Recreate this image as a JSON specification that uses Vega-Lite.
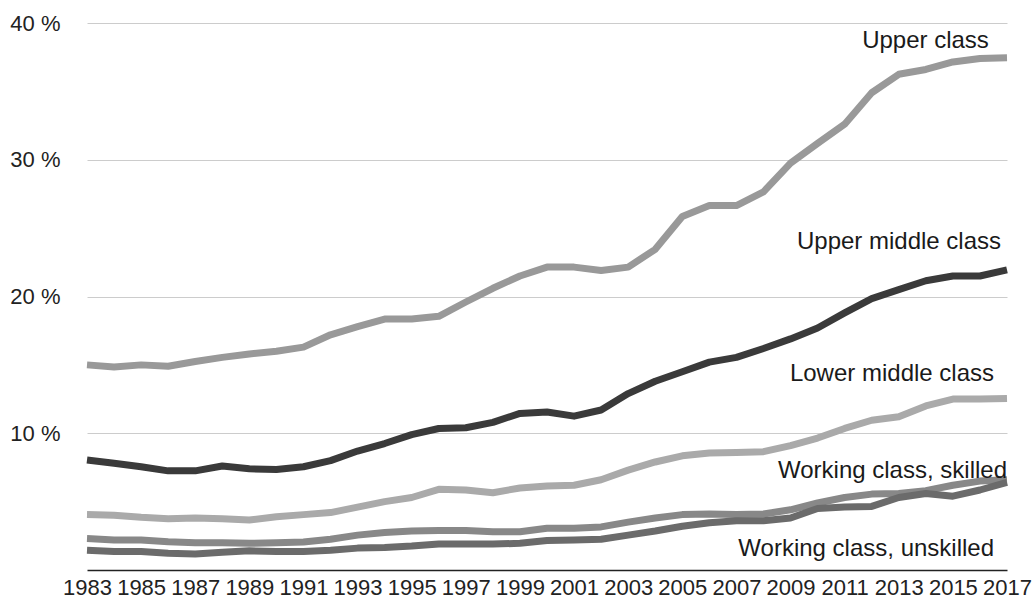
{
  "$schema": "https://vega.github.io/schema/vega-lite/v6.json",
  "width": 920,
  "height": 547,
  "autosize": "none",
  "padding": {"left": 87, "top": 23, "right": 28, "bottom": 29},
  "background": "white",
  "config": {"view": {"stroke": null}, "font": "Liberation Sans"},
  "datasets": {
    "series": [
      {"class": "Upper class", "year": 1983, "value": 15.0},
      {"class": "Upper class", "year": 1984, "value": 14.85},
      {"class": "Upper class", "year": 1985, "value": 15.0},
      {"class": "Upper class", "year": 1986, "value": 14.9},
      {"class": "Upper class", "year": 1987, "value": 15.25},
      {"class": "Upper class", "year": 1988, "value": 15.55},
      {"class": "Upper class", "year": 1989, "value": 15.8},
      {"class": "Upper class", "year": 1990, "value": 16.0},
      {"class": "Upper class", "year": 1991, "value": 16.3},
      {"class": "Upper class", "year": 1992, "value": 17.2},
      {"class": "Upper class", "year": 1993, "value": 17.8},
      {"class": "Upper class", "year": 1994, "value": 18.35},
      {"class": "Upper class", "year": 1995, "value": 18.35},
      {"class": "Upper class", "year": 1996, "value": 18.55},
      {"class": "Upper class", "year": 1997, "value": 19.6},
      {"class": "Upper class", "year": 1998, "value": 20.6},
      {"class": "Upper class", "year": 1999, "value": 21.5},
      {"class": "Upper class", "year": 2000, "value": 22.15},
      {"class": "Upper class", "year": 2001, "value": 22.15},
      {"class": "Upper class", "year": 2002, "value": 21.9},
      {"class": "Upper class", "year": 2003, "value": 22.15},
      {"class": "Upper class", "year": 2004, "value": 23.45},
      {"class": "Upper class", "year": 2005, "value": 25.85},
      {"class": "Upper class", "year": 2006, "value": 26.65},
      {"class": "Upper class", "year": 2007, "value": 26.65},
      {"class": "Upper class", "year": 2008, "value": 27.65},
      {"class": "Upper class", "year": 2009, "value": 29.75},
      {"class": "Upper class", "year": 2010, "value": 31.2},
      {"class": "Upper class", "year": 2011, "value": 32.6},
      {"class": "Upper class", "year": 2012, "value": 34.9},
      {"class": "Upper class", "year": 2013, "value": 36.25},
      {"class": "Upper class", "year": 2014, "value": 36.6},
      {"class": "Upper class", "year": 2015, "value": 37.15},
      {"class": "Upper class", "year": 2016, "value": 37.4},
      {"class": "Upper class", "year": 2017, "value": 37.45},

      {"class": "Upper middle class", "year": 1983, "value": 8.05},
      {"class": "Upper middle class", "year": 1984, "value": 7.8},
      {"class": "Upper middle class", "year": 1985, "value": 7.55},
      {"class": "Upper middle class", "year": 1986, "value": 7.25},
      {"class": "Upper middle class", "year": 1987, "value": 7.25},
      {"class": "Upper middle class", "year": 1988, "value": 7.6},
      {"class": "Upper middle class", "year": 1989, "value": 7.4},
      {"class": "Upper middle class", "year": 1990, "value": 7.35},
      {"class": "Upper middle class", "year": 1991, "value": 7.55},
      {"class": "Upper middle class", "year": 1992, "value": 8.0},
      {"class": "Upper middle class", "year": 1993, "value": 8.7},
      {"class": "Upper middle class", "year": 1994, "value": 9.25},
      {"class": "Upper middle class", "year": 1995, "value": 9.9},
      {"class": "Upper middle class", "year": 1996, "value": 10.35},
      {"class": "Upper middle class", "year": 1997, "value": 10.4},
      {"class": "Upper middle class", "year": 1998, "value": 10.8},
      {"class": "Upper middle class", "year": 1999, "value": 11.45},
      {"class": "Upper middle class", "year": 2000, "value": 11.55},
      {"class": "Upper middle class", "year": 2001, "value": 11.25},
      {"class": "Upper middle class", "year": 2002, "value": 11.7},
      {"class": "Upper middle class", "year": 2003, "value": 12.9},
      {"class": "Upper middle class", "year": 2004, "value": 13.8},
      {"class": "Upper middle class", "year": 2005, "value": 14.5},
      {"class": "Upper middle class", "year": 2006, "value": 15.2},
      {"class": "Upper middle class", "year": 2007, "value": 15.55},
      {"class": "Upper middle class", "year": 2008, "value": 16.2},
      {"class": "Upper middle class", "year": 2009, "value": 16.9},
      {"class": "Upper middle class", "year": 2010, "value": 17.7},
      {"class": "Upper middle class", "year": 2011, "value": 18.8},
      {"class": "Upper middle class", "year": 2012, "value": 19.85},
      {"class": "Upper middle class", "year": 2013, "value": 20.5},
      {"class": "Upper middle class", "year": 2014, "value": 21.15},
      {"class": "Upper middle class", "year": 2015, "value": 21.5},
      {"class": "Upper middle class", "year": 2016, "value": 21.5},
      {"class": "Upper middle class", "year": 2017, "value": 21.95},

      {"class": "Lower middle class", "year": 1983, "value": 4.05},
      {"class": "Lower middle class", "year": 1984, "value": 4.0},
      {"class": "Lower middle class", "year": 1985, "value": 3.85},
      {"class": "Lower middle class", "year": 1986, "value": 3.75},
      {"class": "Lower middle class", "year": 1987, "value": 3.8},
      {"class": "Lower middle class", "year": 1988, "value": 3.75},
      {"class": "Lower middle class", "year": 1989, "value": 3.65},
      {"class": "Lower middle class", "year": 1990, "value": 3.9},
      {"class": "Lower middle class", "year": 1991, "value": 4.05},
      {"class": "Lower middle class", "year": 1992, "value": 4.2},
      {"class": "Lower middle class", "year": 1993, "value": 4.6},
      {"class": "Lower middle class", "year": 1994, "value": 5.0},
      {"class": "Lower middle class", "year": 1995, "value": 5.3},
      {"class": "Lower middle class", "year": 1996, "value": 5.9},
      {"class": "Lower middle class", "year": 1997, "value": 5.85},
      {"class": "Lower middle class", "year": 1998, "value": 5.65},
      {"class": "Lower middle class", "year": 1999, "value": 6.0},
      {"class": "Lower middle class", "year": 2000, "value": 6.15},
      {"class": "Lower middle class", "year": 2001, "value": 6.2},
      {"class": "Lower middle class", "year": 2002, "value": 6.6},
      {"class": "Lower middle class", "year": 2003, "value": 7.3},
      {"class": "Lower middle class", "year": 2004, "value": 7.9},
      {"class": "Lower middle class", "year": 2005, "value": 8.35},
      {"class": "Lower middle class", "year": 2006, "value": 8.55},
      {"class": "Lower middle class", "year": 2007, "value": 8.6},
      {"class": "Lower middle class", "year": 2008, "value": 8.65},
      {"class": "Lower middle class", "year": 2009, "value": 9.1},
      {"class": "Lower middle class", "year": 2010, "value": 9.65},
      {"class": "Lower middle class", "year": 2011, "value": 10.35},
      {"class": "Lower middle class", "year": 2012, "value": 10.95},
      {"class": "Lower middle class", "year": 2013, "value": 11.2},
      {"class": "Lower middle class", "year": 2014, "value": 12.0},
      {"class": "Lower middle class", "year": 2015, "value": 12.5},
      {"class": "Lower middle class", "year": 2016, "value": 12.5},
      {"class": "Lower middle class", "year": 2017, "value": 12.55},

      {"class": "Working class, skilled", "year": 1983, "value": 2.3},
      {"class": "Working class, skilled", "year": 1984, "value": 2.2},
      {"class": "Working class, skilled", "year": 1985, "value": 2.2},
      {"class": "Working class, skilled", "year": 1986, "value": 2.07},
      {"class": "Working class, skilled", "year": 1987, "value": 2.0},
      {"class": "Working class, skilled", "year": 1988, "value": 2.0},
      {"class": "Working class, skilled", "year": 1989, "value": 1.95},
      {"class": "Working class, skilled", "year": 1990, "value": 2.0},
      {"class": "Working class, skilled", "year": 1991, "value": 2.05},
      {"class": "Working class, skilled", "year": 1992, "value": 2.25},
      {"class": "Working class, skilled", "year": 1993, "value": 2.55},
      {"class": "Working class, skilled", "year": 1994, "value": 2.75},
      {"class": "Working class, skilled", "year": 1995, "value": 2.85},
      {"class": "Working class, skilled", "year": 1996, "value": 2.88},
      {"class": "Working class, skilled", "year": 1997, "value": 2.88},
      {"class": "Working class, skilled", "year": 1998, "value": 2.8},
      {"class": "Working class, skilled", "year": 1999, "value": 2.8},
      {"class": "Working class, skilled", "year": 2000, "value": 3.05},
      {"class": "Working class, skilled", "year": 2001, "value": 3.05},
      {"class": "Working class, skilled", "year": 2002, "value": 3.15},
      {"class": "Working class, skilled", "year": 2003, "value": 3.5},
      {"class": "Working class, skilled", "year": 2004, "value": 3.8},
      {"class": "Working class, skilled", "year": 2005, "value": 4.05},
      {"class": "Working class, skilled", "year": 2006, "value": 4.1},
      {"class": "Working class, skilled", "year": 2007, "value": 4.05},
      {"class": "Working class, skilled", "year": 2008, "value": 4.1},
      {"class": "Working class, skilled", "year": 2009, "value": 4.4},
      {"class": "Working class, skilled", "year": 2010, "value": 4.9},
      {"class": "Working class, skilled", "year": 2011, "value": 5.3},
      {"class": "Working class, skilled", "year": 2012, "value": 5.55},
      {"class": "Working class, skilled", "year": 2013, "value": 5.6},
      {"class": "Working class, skilled", "year": 2014, "value": 5.8},
      {"class": "Working class, skilled", "year": 2015, "value": 6.2},
      {"class": "Working class, skilled", "year": 2016, "value": 6.5},
      {"class": "Working class, skilled", "year": 2017, "value": 6.6},

      {"class": "Working class, unskilled", "year": 1983, "value": 1.45},
      {"class": "Working class, unskilled", "year": 1984, "value": 1.35},
      {"class": "Working class, unskilled", "year": 1985, "value": 1.35},
      {"class": "Working class, unskilled", "year": 1986, "value": 1.22},
      {"class": "Working class, unskilled", "year": 1987, "value": 1.17},
      {"class": "Working class, unskilled", "year": 1988, "value": 1.3},
      {"class": "Working class, unskilled", "year": 1989, "value": 1.4},
      {"class": "Working class, unskilled", "year": 1990, "value": 1.35},
      {"class": "Working class, unskilled", "year": 1991, "value": 1.35},
      {"class": "Working class, unskilled", "year": 1992, "value": 1.45},
      {"class": "Working class, unskilled", "year": 1993, "value": 1.6},
      {"class": "Working class, unskilled", "year": 1994, "value": 1.65},
      {"class": "Working class, unskilled", "year": 1995, "value": 1.75},
      {"class": "Working class, unskilled", "year": 1996, "value": 1.9},
      {"class": "Working class, unskilled", "year": 1997, "value": 1.9},
      {"class": "Working class, unskilled", "year": 1998, "value": 1.9},
      {"class": "Working class, unskilled", "year": 1999, "value": 1.95},
      {"class": "Working class, unskilled", "year": 2000, "value": 2.15},
      {"class": "Working class, unskilled", "year": 2001, "value": 2.2},
      {"class": "Working class, unskilled", "year": 2002, "value": 2.25},
      {"class": "Working class, unskilled", "year": 2003, "value": 2.55},
      {"class": "Working class, unskilled", "year": 2004, "value": 2.85},
      {"class": "Working class, unskilled", "year": 2005, "value": 3.2},
      {"class": "Working class, unskilled", "year": 2006, "value": 3.45},
      {"class": "Working class, unskilled", "year": 2007, "value": 3.6},
      {"class": "Working class, unskilled", "year": 2008, "value": 3.6},
      {"class": "Working class, unskilled", "year": 2009, "value": 3.8},
      {"class": "Working class, unskilled", "year": 2010, "value": 4.5},
      {"class": "Working class, unskilled", "year": 2011, "value": 4.6},
      {"class": "Working class, unskilled", "year": 2012, "value": 4.65},
      {"class": "Working class, unskilled", "year": 2013, "value": 5.3},
      {"class": "Working class, unskilled", "year": 2014, "value": 5.6},
      {"class": "Working class, unskilled", "year": 2015, "value": 5.4},
      {"class": "Working class, unskilled", "year": 2016, "value": 5.85},
      {"class": "Working class, unskilled", "year": 2017, "value": 6.4}
    ],
    "labels": [
      {"label": "Upper class", "year": 2016.33, "value": 38.2},
      {"label": "Upper middle class", "year": 2016.78, "value": 23.47},
      {"label": "Lower middle class", "year": 2016.52, "value": 13.84},
      {"label": "Working class, skilled", "year": 2017.0, "value": 6.76},
      {"label": "Working class, unskilled", "year": 2016.52, "value": 1.02}
    ]
  },
  "layer": [
    {
      "data": {"name": "series"},
      "mark": {"type": "line", "strokeWidth": 7, "strokeJoin": "round", "strokeCap": "butt"},
      "encoding": {
        "x": {
          "field": "year", "type": "quantitative",
          "scale": {"domain": [1983, 2017], "nice": false, "zero": false},
          "axis": {
            "values": [1983, 1985, 1987, 1989, 1991, 1993, 1995, 1997, 1999, 2001, 2003, 2005, 2007, 2009, 2011, 2013, 2015, 2017],
            "format": "d", "title": null, "grid": false, "ticks": false,
            "domainColor": "#222", "domainWidth": 1.5,
            "labelFontSize": 22, "labelColor": "#222", "labelPadding": 7,
            "labelFlush": false, "labelOverlap": false
          }
        },
        "y": {
          "field": "value", "type": "quantitative",
          "scale": {"domain": [0, 40], "nice": false},
          "axis": {
            "values": [10, 20, 30, 40],
            "labelExpr": "datum.value + ' %'",
            "title": null, "domain": false, "ticks": false,
            "gridColor": "#cccccc", "gridWidth": 1,
            "labelFontSize": 22, "labelColor": "#222", "labelPadding": 27
          }
        },
        "color": {
          "field": "class", "type": "nominal",
          "scale": {
            "domain": ["Upper class", "Upper middle class", "Lower middle class", "Working class, skilled", "Working class, unskilled"],
            "range": ["#999999", "#3a3a3a", "#aaaaaa", "#888888", "#6b6b6b"]
          },
          "legend": null
        }
      }
    },
    {
      "data": {"name": "labels"},
      "mark": {"type": "text", "align": "right", "baseline": "alphabetic", "fontSize": 24, "color": "#1a1a1a"},
      "encoding": {
        "x": {"field": "year", "type": "quantitative"},
        "y": {"field": "value", "type": "quantitative"},
        "text": {"field": "label"}
      }
    }
  ]
}
